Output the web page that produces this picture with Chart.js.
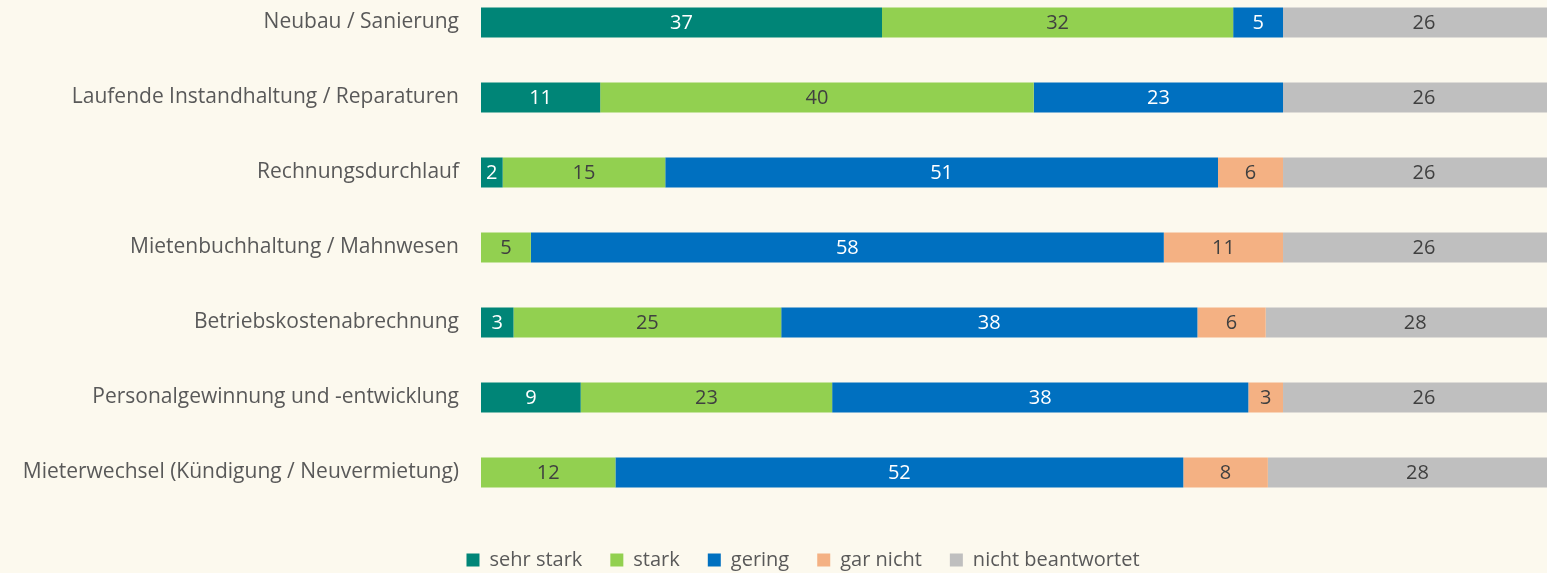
<!DOCTYPE html>
<html lang="de">
<head>
    <meta charset="UTF-8">
    <meta name="viewport" content="width=device-width, initial-scale=1.0">
    <title>Digitalisierung nach Bereichen</title>
    <script src="https://cdn.jsdelivr.net/npm/chart.js@4.4.1/dist/chart.umd.min.js"></script>
    <style>
        html, body {
            margin: 0;
            padding: 0;
            background-color: #fcf9ee;
            overflow: hidden;
            width: 1547px;
            height: 573px;
        }
        .chart-container {
            position: absolute;
            left: 0;
            top: -15px;
            width: 1606px;
            height: 595px;
        }
    </style>
</head>
<body>
    <div class="chart-container">
        <canvas id="stackChart"></canvas>
    </div>

    <script>
        // Categories (top to bottom)
        const categories = [
            'Neubau / Sanierung',
            'Laufende Instandhaltung / Reparaturen',
            'Rechnungsdurchlauf',
            'Mietenbuchhaltung / Mahnwesen',
            'Betriebskostenabrechnung',
            'Personalgewinnung und -entwicklung',
            'Mieterwechsel (Kündigung / Neuvermietung)'
        ];

        // Series values in percent (labels show them rounded)
        const sehrStark = [37, 11, 2, 0, 3, 9.2, 0];
        const stark = [32.4, 40, 15, 4.6, 24.7, 23.2, 12.4];
        const gering = [4.6, 23, 51, 58.4, 38.4, 38.4, 52.4];
        const garNicht = [0, 0, 6, 11, 6.3, 3.2, 7.8];
        const nichtBeantwortet = [26, 26, 26, 26, 27.6, 26, 27.6];

        const seriesNames = ['sehr stark', 'stark', 'gering', 'gar nicht', 'nicht beantwortet'];
        const seriesValues = [sehrStark, stark, gering, garNicht, nichtBeantwortet];
        const seriesColors = ['#008577', '#92d050', '#0070c0', '#f4b183', '#bfbfbf'];
        const labelColors = ['#ffffff', '#404040', '#ffffff', '#404040', '#404040'];

        const fontFamily = "'Open Sans', 'Noto Sans', sans-serif";
        const textColor = '#595959';

        // Draws the value in the middle of each segment
        const segmentLabels = {
            id: 'segmentLabels',
            afterDatasetsDraw(chart) {
                const ctx = chart.ctx;
                ctx.save();
                ctx.font = '20px ' + fontFamily;
                ctx.textAlign = 'center';
                ctx.textBaseline = 'middle';
                chart.data.datasets.forEach((ds, i) => {
                    const meta = chart.getDatasetMeta(i);
                    meta.data.forEach((bar, j) => {
                        const v = ds.data[j];
                        if (!v) return;
                        const p = bar.getProps(['x', 'y', 'base'], true);
                        ctx.fillStyle = labelColors[i];
                        ctx.fillText(Math.round(v), (p.x + p.base) / 2, p.y + 1);
                    });
                });
                ctx.restore();
            }
        };

        const datasets = seriesNames.map((name, i) => ({
            label: name,
            data: seriesValues[i],
            backgroundColor: seriesColors[i],
            borderWidth: 0,
            barPercentage: 0.4,
            categoryPercentage: 1
        }));

        new Chart(document.getElementById('stackChart'), {
            type: 'bar',
            data: {
                labels: categories,
                datasets: datasets
            },
            options: {
                indexAxis: 'y',
                responsive: true,
                maintainAspectRatio: false,
                animation: false,
                layout: {
                    padding: 0
                },
                scales: {
                    x: {
                        stacked: true,
                        min: 0,
                        // the 100 % end sits past the right edge of the picture
                        max: 103.8,
                        grid: { display: false },
                        border: { display: false },
                        ticks: { display: false },
                        afterFit(axis) {
                            axis.height = 12;
                            axis.paddingLeft = 0;
                            axis.paddingRight = 0;
                        }
                    },
                    y: {
                        stacked: true,
                        grid: { display: false, drawTicks: false },
                        border: { display: false },
                        ticks: {
                            padding: 22,
                            color: textColor,
                            font: { family: fontFamily, size: 21 }
                        },
                        afterFit(axis) {
                            axis.width = 481;
                            // no extra room above / below for the tick labels
                            axis.paddingTop = 0;
                            axis.paddingBottom = 0;
                        }
                    }
                },
                plugins: {
                    legend: {
                        position: 'bottom',
                        labels: {
                            boxWidth: 13,
                            boxHeight: 13,
                            padding: 28,
                            color: textColor,
                            font: { family: fontFamily, size: 20 }
                        }
                    },
                    tooltip: { enabled: false }
                }
            },
            plugins: [segmentLabels]
        });
    </script>
</body>
</html>
